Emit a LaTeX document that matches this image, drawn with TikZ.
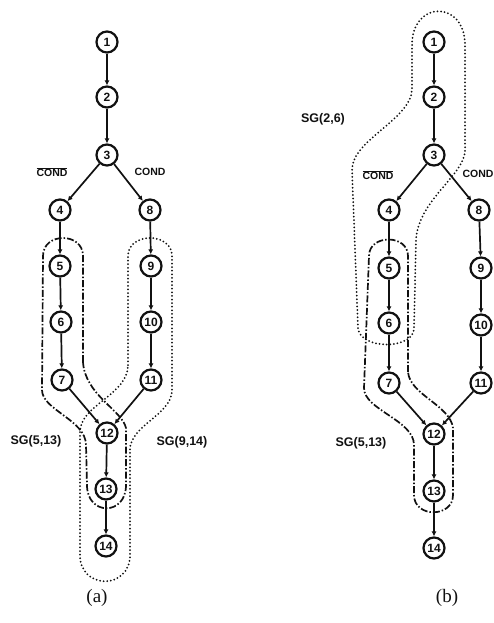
\documentclass[tikz,border=0pt]{standalone}
\usepackage{fontspec}
\setmainfont{Liberation Serif}
\setsansfont{Liberation Sans}
\usetikzlibrary{positioning, arrows.meta}
\definecolor{Ink}{HTML}{111111}
\tikzset{
    vnode/.style={circle, draw=Ink, line width=2.2pt, minimum size=21pt, inner sep=0pt, font=\sffamily\bfseries\fontsize{12}{12}\selectfont, text=Ink},
    flow/.style={-{Latex[length=5pt,width=5pt]}, line width=1.7pt, color=Ink},
    sgdash/.style={line width=1.7pt, color=Ink, dash pattern=on 7pt off 2pt on 1.5pt off 2pt},
    sgdot/.style={line width=2pt, color=Ink, line cap=round, dash pattern=on 0pt off 3.6pt},
    lbl/.style={font=\sffamily\bfseries\fontsize{12.5}{12.5}\selectfont, text=Ink, inner sep=0pt},
    cond/.style={font=\sffamily\bfseries\fontsize{10.5}{10.5}\selectfont, text=Ink, inner sep=0pt},
    subcap/.style={font=\fontsize{19}{19}\selectfont, text=Ink, inner sep=0pt},
}
\begin{document}
\begin{tikzpicture}[x=1pt, y=-1pt]
\useasboundingbox (0,0) rectangle (493,623);
\foreach \n/\x/\y in {1/107/42, 2/107/97, 3/107/155, 4/60/210, 8/150/210, 5/60/266, 9/151/266, 6/61/322, 10/151/322, 7/62/380, 11/151/380, 12/107/433, 13/106/489, 14/106/546}
    \node[vnode] (a\n) at (\x,\y) {\n};
\foreach \n/\x/\y in {1/434/42, 2/434/97, 3/434/155, 4/389/210, 8/479/210, 5/389/268, 9/481/268, 6/389/323, 10/481/325, 7/389/383, 11/481/383, 12/434/434, 13/434/491, 14/434/548}
    \node[vnode] (b\n) at (\x,\y) {\n};
\foreach \p in {a,b}
    \foreach \s/\t in {1/2, 2/3, 3/4, 3/8, 4/5, 5/6, 6/7, 7/12, 8/9, 9/10, 10/11, 11/12, 12/13, 13/14}
        \draw[flow] (\p\s) -- (\p\t);
\node[cond] (ancond) at (52,172) {$\overline{\hbox{\sffamily\bfseries\fontsize{10.5}{10.5}\selectfont COND}}$};
\node[cond] (acond) at (150,172) {COND};
\node[cond] (bncond) at (378,175) {$\overline{\hbox{\sffamily\bfseries\fontsize{10.5}{10.5}\selectfont COND}}$};
\node[cond] (bcond) at (478,174) {COND};
\draw[sgdash] (83,362) -- (83,256) .. controls (83,232) and (43,232) .. (43,256) -- (42,390)
    .. controls (42,410) and (86,420) .. (86,445) -- (87,485) .. controls (87,516) and (126,516) .. (126,485)
    -- (126,428) .. controls (122,410) and (85,395) .. (83,362) -- cycle;
\draw[sgdot] (128,365) -- (128,256) .. controls (128,232) and (172,232) .. (172,256) -- (172,390)
    .. controls (172,415) and (130,425) .. (130,450) -- (130,555) .. controls (130,590) and (80,590) .. (80,555)
    -- (80,432) .. controls (80,405) and (128,395) .. (128,365) -- cycle;
\draw[sgdot] (412,45) .. controls (412,0) and (465,0) .. (465,45) -- (465,150)
    .. controls (465,175) and (418,200) .. (416,240) -- (414,328) .. controls (414,350) and (360,350) .. (358,328)
    -- (352,170) .. controls (352,140) and (410,120) .. (412,90) -- cycle;
\draw[sgdash] (408,372) -- (408,256) .. controls (408,234) and (369,234) .. (369,256) -- (364,388)
    .. controls (364,410) and (414,420) .. (414,445) -- (414,495) .. controls (414,518) and (453,518) .. (453,495)
    -- (453,428) .. controls (450,405) and (410,395) .. (408,372) -- cycle;
\node[lbl] (asg1) at (36,441) {SG(5,13)};
\node[lbl] (asg2) at (182,442) {SG(9,14)};
\node[lbl] (bsg1) at (323,119) {SG(2,6)};
\node[lbl] (bsg2) at (361,443) {SG(5,13)};
\node[subcap] (acap) at (97,598) {(a)};
\node[subcap] (bcap) at (447,598) {(b)};
\end{tikzpicture}
\end{document}
